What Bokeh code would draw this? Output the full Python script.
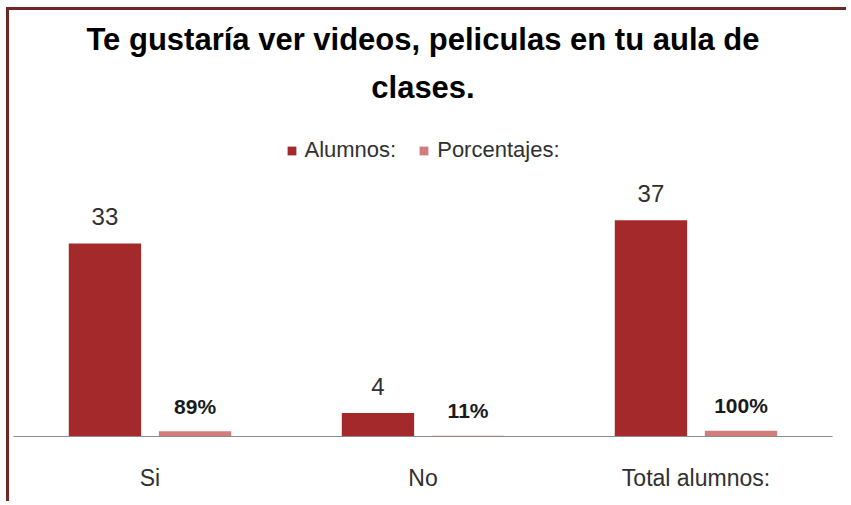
from bokeh.plotting import figure
from bokeh.models import ColumnDataSource, FactorRange, Legend, LegendItem, Title
from bokeh.transform import dodge
from bokeh.core.properties import value
from bokeh.embed import file_html
from bokeh.resources import INLINE

categories = ["Si", "No", "Total alumnos:"]
alumnos = [33, 4, 37]
porcentajes = [0.89, 0.11, 1.00]
porcentaje_labels = ["89%", "11%", "100%"]
alumnos_labels = ["33", "4", "37"]
title_lines = ["Te gustaría ver videos, peliculas en tu aula de", "clases."]

FONT = "Liberation Sans"

src = ColumnDataSource(dict(cat=categories, alumnos=alumnos, pct=porcentajes,
                            alab=alumnos_labels, plab=porcentaje_labels))

p = figure(x_range=FactorRange(*categories), y_range=(0, 52.5),
           width=840, height=494, output_backend="svg", toolbar_location=None,
           min_border_left=4, min_border_right=17, min_border_bottom=68, min_border_top=119)
p.styles = {"border-top": "3px solid #6e2626", "border-left": "3px solid #6e2626",
            "margin-left": "6px", "margin-top": "7px"}
p.title = None
standoffs = [-28, 50]
for line, so in reversed(list(zip(title_lines, standoffs))):
    p.add_layout(Title(text=line, align="center", text_font=FONT, text_font_size="31px",
                       text_font_style="bold", text_color="#000000",
                       standoff=so, offset=0), "above")

r1 = p.vbar(x=dodge("cat", -0.165, range=p.x_range), top="alumnos", width=0.265,
            source=src, fill_color="#a3292a", line_color=None)
r2 = p.vbar(x=dodge("cat", 0.165, range=p.x_range), top="pct", width=0.265,
            source=src, fill_color="#d27c7b", line_color=None)

p.text(x=dodge("cat", -0.165, range=p.x_range), y="alumnos", text="alab", source=src,
       text_font=value(FONT), text_font_size="24px", text_color="#303030",
       text_align="center", text_baseline="alphabetic", y_offset=-27)
p.text(x=dodge("cat", 0.165, range=p.x_range), y="pct", text="plab", source=src,
       text_font=value(FONT), text_font_size="21px", text_font_style="bold",
       text_color="#1a1a1a", text_align="center", text_baseline="alphabetic", y_offset=-25)

legend = Legend(items=[LegendItem(label="Alumnos:", renderers=[r1]),
                       LegendItem(label="Porcentajes:", renderers=[r2])],
                orientation="horizontal", location="top_center",
                label_text_font=FONT, label_text_font_size="22px", label_text_color="#303030",
                glyph_width=11, glyph_height=11, spacing=22, label_standoff=8,
                border_line_color=None, background_fill_alpha=0, margin=8, padding=4)
p.add_layout(legend)

p.yaxis.visible = False
p.xgrid.visible = False
p.ygrid.visible = False
p.outline_line_color = None
p.xaxis.axis_line_color = "#8c8c8c"
p.xaxis.major_tick_line_color = None
p.xaxis.minor_tick_line_color = None
p.xaxis.major_tick_out = 0
p.xaxis.major_label_standoff = 28
p.xaxis.major_label_text_font = FONT
p.xaxis.major_label_text_font_size = "23px"
p.xaxis.major_label_text_color = "#303030"
p.x_range.range_padding = 0
p.x_range.group_padding = 0

open("out.html", "w").write(file_html(p, INLINE))
